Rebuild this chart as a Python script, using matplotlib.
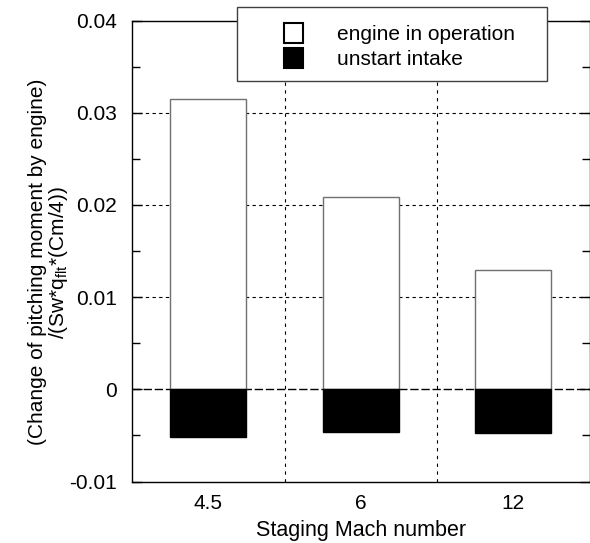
import matplotlib; matplotlib.use("Agg")
import matplotlib.pyplot as plt
from matplotlib.patches import Rectangle
from matplotlib.ticker import MultipleLocator

plt.rcParams["font.family"] = ["Liberation Sans", "DejaVu Sans"]
plt.rcParams["font.size"] = 15
plt.rcParams["mathtext.fontset"] = "custom"
plt.rcParams["mathtext.rm"] = "Liberation Sans"

# staging Mach number categories and pitching-moment change
mach = ["4.5", "6", "12"]
engine_on = [0.0315, 0.0209, 0.0129]
unstart = [-0.0052, -0.0046, -0.0047]
yticks = [-0.01, 0, 0.01, 0.02, 0.03, 0.04]
ylabels = ["-0.01", "0", "0.01", "0.02", "0.03", "0.04"]

fig = plt.figure(figsize=(5.9, 5.43), dpi=100)
ax = fig.add_axes([132/590, 1-481.5/543, 457.5/590, 461/543])
x = range(len(mach))

# grid (behind bars)
for y in [0.01, 0.02, 0.03]:
    ax.axhline(y, color="k", lw=0.8, ls=(0, (3, 3)), zorder=0)
ax.axhline(0, color="k", lw=1.0, ls=(0, (6, 2)), zorder=0)
for xv in [0.5, 1.5]:
    ax.axvline(xv, color="k", lw=0.8, ls=(0, (3, 4)), zorder=0)

ax.bar(x, engine_on, width=0.5, color="white", edgecolor="#707070", lw=1.0, zorder=2)
ax.bar(x, unstart, width=0.5, color="black", edgecolor="black", lw=1.0, zorder=2)

ax.set_xlim(-0.5, 2.5)
ax.set_ylim(-0.01, 0.04)
ax.set_xticks(list(x), mach)
ax.tick_params(axis="x", length=0, pad=9)
ax.set_yticks(yticks, ylabels)
ax.yaxis.set_minor_locator(MultipleLocator(0.005))
ax.tick_params(axis="y", which="both", direction="in", right=True, pad=11)
ax.tick_params(axis="y", which="major", length=7, width=1)
ax.tick_params(axis="y", which="minor", length=6, width=1)
for s in ax.spines.values():
    s.set_linewidth(1.0)

ax.set_xlabel("Staging Mach number", fontsize=15.5, labelpad=5)
ax.set_ylabel("(Change of pitching moment by engine)\n/(Sw*q$\\mathregular{_{flt}}$*(Cm/4))",
              linespacing=1.0)
ax.yaxis.set_label_coords(-0.135, 0.476)

# legend box (drawn by hand to match the boxed layout)
def px(xp, yp):
    return xp/590, 1 - yp/543
x0, y0 = px(237, 81)
x1, y1 = px(547, 7)
fig.add_artist(Rectangle((x0, y0), x1-x0, y1-y0, transform=fig.transFigure,
                         facecolor="white", edgecolor="#404040", lw=1.0, zorder=5))
for (fc, lab, yc) in [("white", "engine in operation", 33), ("black", "unstart intake", 58)]:
    hx, hy = px(284, yc+9.5)
    fig.add_artist(Rectangle((hx, hy), 19/590, 19/543, transform=fig.transFigure,
                             facecolor=fc, edgecolor="black", lw=1.5, zorder=6))
    tx, ty = px(337, yc + 1.5)
    fig.text(tx, ty, lab, va="center", ha="left", zorder=6)

fig.savefig("out.png", dpi=100)
